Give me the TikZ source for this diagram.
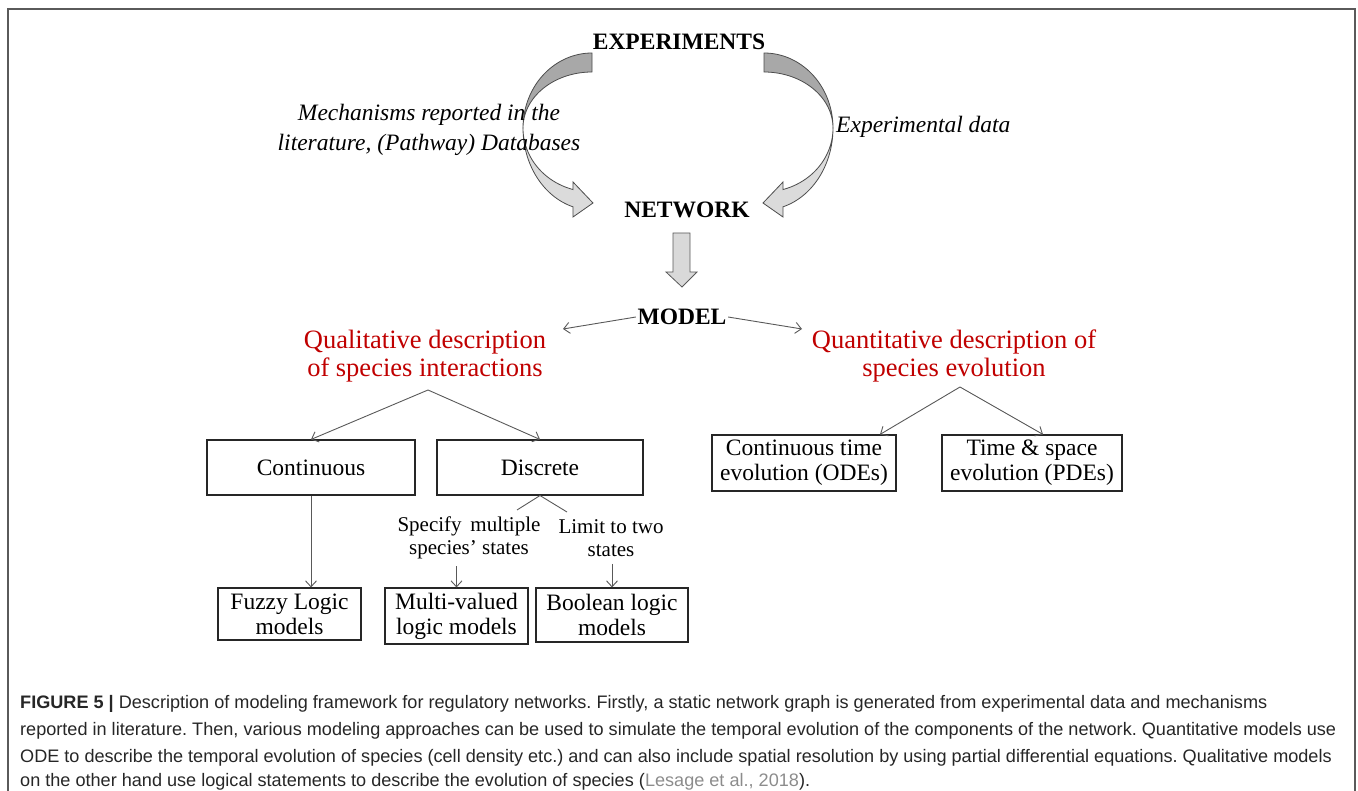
\documentclass[tikz,border=0pt]{standalone}
\usepackage{fontspec}
\setmainfont{Liberation Serif}
\newfontfamily\capfont{Liberation Sans}
\usetikzlibrary{arrows.meta,calc}
\definecolor{redtxt}{HTML}{C00000}
\definecolor{capgray}{HTML}{8C8C8C}
\definecolor{captxt}{HTML}{262626}
\definecolor{framecol}{HTML}{5A5A5A}
\newcommand\fsz[2]{\fontsize{#1}{#2}\selectfont}
\tikzset{
  boxnode/.style={draw=black!85, line width=1.1pt, align=center, inner sep=0pt, font=\fsz{23.5}{25}},
  titlenode/.style={inner sep=1.5pt, font=\fsz{23.5}{26}\bfseries},
  italnode/.style={inner sep=0pt, align=center, font=\fsz{23.5}{30}\itshape},
  rednode/.style={inner sep=0pt, align=center, text=redtxt, font=\fsz{26.5}{28}},
  lblnode/.style={inner sep=0pt, align=center, font=\fsz{21}{23}},
  capnode/.style={inner sep=0pt, anchor=base west, text=captxt, font=\capfont\frenchspacing\fsz{18.1}{20}},
  conn/.style={draw=black!65, line width=0.9pt, -{Straight Barb[length=6pt,width=11pt]}},
  plainline/.style={draw=black!65, line width=0.9pt},
  darkpart/.style={fill=gray!68, draw=black!70, line width=0.8pt},
  lightpart/.style={fill=gray!28, draw=black!70, line width=0.8pt},
  blockarrow/.style={fill=gray!30, draw=black!65, line width=0.8pt},
  framestyle/.style={draw=framecol, line width=2pt}
}
\begin{document}
\begin{tikzpicture}[x=1pt,y=-1pt]
\useasboundingbox (0,0) rectangle (1358,791);
% frame
\draw[framestyle] (8,791) -- (8,9) -- (1355,9) -- (1355,791);

% curved arrows (left, then mirrored right)
\foreach \sc/\sh in {1/0,-1/1356}{
\begin{scope}[shift={(\sh,0)},xscale=\sc]
  \filldraw[darkpart] plot[domain=-90:-180,samples=50] ({592+69*cos(\x)},{128+75*sin(\x)})
     -- plot[domain=180:270,samples=50] ({592+69*cos(\x)},{128+56*sin(\x)}) -- cycle;
  \filldraw[lightpart] plot[domain=180:106,samples=50] ({592+69*cos(\x)},{128+82*sin(\x)})
     -- (573,217) -- (593,203) -- (573,182)
     -- plot[domain=106:180,samples=50] ({592+69*cos(\x)},{128+64*sin(\x)}) -- cycle;
\end{scope}
}

% titles
\node[titlenode] (exp) at (679,42) {EXPERIMENTS};
\node[titlenode] (net) at (687,210) {NETWORK};
\node[titlenode] (model) at (682,317) {MODEL};

\node[italnode] (mech) at (429,130) {Mechanisms reported in the\\literature, (Pathway) Databases};
\node[italnode, anchor=west] (expdata) at (836,127) {Experimental data};

% down block arrow
\filldraw[blockarrow] (673,233) -- (690,233) -- (690,272) -- (697,272) -- (682,287) -- (666,272) -- (673,272) -- cycle;

% red headings
\node[rednode] (qual) at (425,356) {Qualitative description\\of species interactions};
\node[rednode] (quant) at (954,356) {Quantitative description of\\species evolution};

% boxes
\node[boxnode, minimum width=208pt, minimum height=55pt] (cont) at (311,467.5) {Continuous};
\node[boxnode, minimum width=206pt, minimum height=55pt] (disc) at (540,467.5) {Discrete};
\node[boxnode, minimum width=143pt, minimum height=52pt] (fuzzy) at (289.5,614) {Fuzzy Logic\\models};
\node[boxnode, minimum width=143pt, minimum height=56pt] (multi) at (456.5,616) {Multi-valued\\logic models};
\node[boxnode, minimum width=152pt, minimum height=54pt] (bool) at (612,615) {Boolean logic\\models};
\node[boxnode, minimum width=184pt, minimum height=56pt] (ode) at (804,463) {Continuous time\\evolution (ODEs)};
\node[boxnode, minimum width=180pt, minimum height=56pt] (pde) at (1032,463) {Time \& space\\evolution (PDEs)};

% labels under Discrete
\node[lblnode] (spec) at (469,538) {Specify\, multiple\\species’ states};
\node[lblnode] (limit) at (611,538) {Limit to two\\states};

% connectors
\coordinate (mL) at (563,329);
\coordinate (mR) at (802,329);
\draw[conn] (model.west) -- (mL);
\draw[conn] (model.east) -- (mR);

\coordinate (qa) at (428,390);
\draw[conn] (qa) -- (cont.north);
\draw[conn] (qa) -- (disc.north);

\coordinate (qb) at (960,387);
\draw[conn] (qb) -- (880,0 |- ode.north);
\draw[conn] (qb) -- (1043,0 |- pde.north);

\draw[conn] (cont.south) -- (cont.south |- fuzzy.north);

\coordinate (dsL) at (517,510);
\coordinate (dsR) at (567,512);
\draw[plainline] (disc.south) -- (dsL);
\draw[plainline] (disc.south) -- (dsR);

\draw[conn] ([yshift=-7pt]spec.south -| multi.north) -- (multi.north);
\draw[conn] ([yshift=-7pt]limit.south -| bool.north) -- (bool.north);

% caption
\node[capnode] (cap1) at (20,708) {\textbf{FIGURE 5 |} Description of modeling framework for regulatory networks. Firstly, a static network graph is generated from experimental data and mechanisms};
\node[capnode] (cap2) at (20,735) {reported in literature. Then, various modeling approaches can be used to simulate the temporal evolution of the components of the network. Quantitative models use};
\node[capnode] (cap3) at (20,762) {ODE to describe the temporal evolution of species (cell density etc.) and can also include spatial resolution by using partial differential equations. Qualitative models};
\node[capnode] (cap4) at (20,786.5) {on the other hand use logical statements to describe the evolution of species ({\color{capgray}Lesage et al., 2018}).};
\end{tikzpicture}
\end{document}
